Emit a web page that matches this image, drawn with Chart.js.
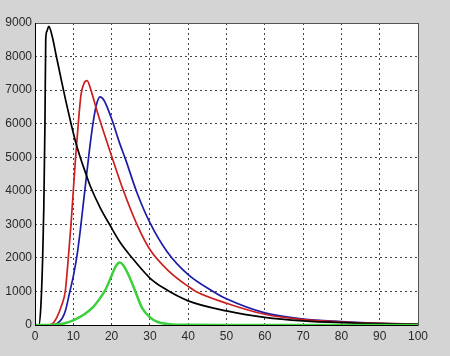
<!DOCTYPE html>
<html>
<head>
<meta charset="utf-8">
<script src="https://cdn.jsdelivr.net/npm/chart.js@4.4.1/dist/chart.umd.min.js"></script>
<style>
html,body{margin:0;padding:0;background:#d4d4d4;}
canvas{display:block;}
</style>
</head>
<body>
<canvas id="c" width="450" height="356"></canvas>
<script>
// tick labels
const xTicks = [0,10,20,30,40,50,60,70,80,90,100];
const yTicks = [0,1000,2000,3000,4000,5000,6000,7000,8000,9000];

// Black series
const blackX = [0,1,1.5,2,2.3,2.6,2.8,3.1,3.6,4.5,5.5,6.6,8,9.2,10.5,11.8,13,14.4,17,19.7,22.3,25,30,33.6,40,50,60,70,80,90,100];
const blackY = [0,0,500,2000,3500,6000,8500,8750,8900,8600,8050,7450,6700,6100,5500,5000,4600,4150,3500,2950,2450,2050,1400,1100,720,420,230,125,70,40,20];

// Red series
const redX = [0,3.5,4.5,5.8,7,7.9,8.7,9.4,10,10.6,11.3,12,12.8,13.6,14.6,16,17.5,20.1,23.1,26.6,30,35,40,42,50,60,70,80,90,100];
const redY = [0,0,30,250,600,1000,2000,3000,4000,5000,6000,6850,7200,7280,7000,6450,5900,5000,4000,3000,2250,1600,1150,1000,650,320,160,90,50,25];

// Blue series
const blueX = [0,4.5,6,7.1,8,9.1,10,11,11.8,12.5,13.3,14.1,15,16,17,18,19,20.3,22,23.6,26.6,30,34.4,40,46.5,50,60,70,80,90,100];
const blueY = [0,0,60,200,450,1000,1450,2100,2800,3500,4300,5100,5900,6550,6800,6700,6450,6050,5450,4950,3950,3050,2200,1500,1000,780,360,175,100,50,25];

// Green series
const greenX = [0,4,6,8,10,11.4,13,15.3,17,18.4,20.1,21,22.1,23,24.4,26.2,27.9,30.1,32,35,40,50,100];
const greenY = [0,0,20,60,140,220,330,550,800,1050,1500,1730,1860,1790,1500,1000,520,220,90,25,5,0,0];

const pts = (xs, ys) => xs.map((x, i) => ({x: x, y: ys[i]}));

const bgPlugin = {
  id: 'bg',
  beforeDraw(chart) {
    const {ctx, chartArea: a} = chart;
    ctx.save();
    ctx.fillStyle = '#d4d4d4';
    ctx.fillRect(0, 0, chart.width, chart.height);
    ctx.fillStyle = '#ffffff';
    ctx.fillRect(a.left, a.top, a.right - a.left, a.bottom - a.top);
    ctx.restore();
  },
  afterDraw(chart) {
    const {ctx, chartArea: a} = chart;
    ctx.save();
    ctx.strokeStyle = '#555';
    ctx.lineWidth = 1;
    ctx.beginPath();
    ctx.moveTo(a.left, a.top + 0.5);
    ctx.lineTo(a.right + 0.5, a.top + 0.5);
    ctx.lineTo(a.right + 0.5, a.bottom);
    ctx.stroke();
    ctx.strokeStyle = '#000';
    ctx.beginPath();
    ctx.moveTo(a.left + 0.5, a.top);
    ctx.lineTo(a.left + 0.5, a.bottom + 0.5);
    ctx.lineTo(a.right + 0.5, a.bottom + 0.5);
    ctx.stroke();
    ctx.restore();
  }
};

const mk = (label, xs, ys, color, w) => ({
  label, data: pts(xs, ys), borderColor: color, backgroundColor: color,
  borderWidth: w, pointRadius: 0, fill: false, cubicInterpolationMode: 'monotone'
});

new Chart(document.getElementById('c'), {
  type: 'line',
  data: {
    datasets: [
      mk('green', greenX, greenY, '#3cd03c', 2.5),
      mk('black', blackX, blackY, '#000000', 1.7),
      mk('red', redX, redY, '#cc2020', 1.7),
      mk('blue', blueX, blueY, '#1c1ca8', 1.7)
    ]
  },
  plugins: [bgPlugin],
  options: {
    responsive: false,
    animation: false,
    devicePixelRatio: 1,
    layout: {padding: {left: 0, top: 23, right: 32, bottom: 0}},
    plugins: {legend: {display: false}, tooltip: {enabled: false}},
    scales: {
      x: {
        type: 'linear', min: 0, max: 100,
        afterBuildTicks: s => { s.ticks = xTicks.map(v => ({value: v})); },
        afterFit: s => { s.height = 31; },
        grid: {color: '#444', drawTicks: false, lineWidth: 1},
        border: {display: false, dash: [2, 3]},
        ticks: {color: '#2a2a2a', padding: 4, font: {family: 'Liberation Sans', size: 12}, maxRotation: 0,
                callback: v => String(v)}
      },
      y: {
        type: 'linear', min: 0, max: 9000,
        afterBuildTicks: s => { s.ticks = yTicks.map(v => ({value: v})); },
        afterFit: s => { s.width = 35; },
        grid: {color: '#444', drawTicks: false, lineWidth: 1},
        border: {display: false, dash: [2, 3]},
        ticks: {color: '#2a2a2a', padding: 3, font: {family: 'Liberation Sans', size: 12},
                callback: v => String(v)}
      }
    }
  }
});
</script>
</body>
</html>
